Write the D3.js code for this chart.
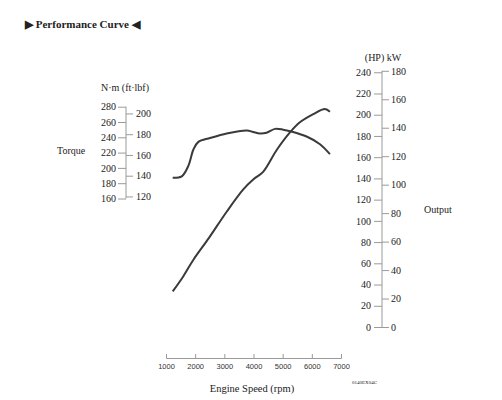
<!DOCTYPE html>
<html>
<head>
<meta charset="utf-8">
<script src="https://cdn.jsdelivr.net/npm/d3@7"></script>
<style>
  body { margin: 0; background: #fff; }
  text { font-family: "Liberation Serif", "Times New Roman", serif; fill: #222; }
  .axis path, .axis line { stroke: #9a9a9a; }
  .axis text { font-size: 10px; }
  .xaxis text { font-family: "Liberation Sans", Arial, sans-serif; font-size: 7.5px; fill: #333; }
</style>
</head>
<body>
<div id="chart"></div>
<script>
// curve data
var torqueRpm = [1230, 1540, 1770, 1940, 2110, 2510, 3080, 3770, 3990, 4220, 4450, 4740, 5020, 5360, 5820, 6280, 6620];
var torqueNm = [187, 189, 203, 224, 234, 239, 245, 249, 247, 245, 246, 251, 250, 247, 241, 231, 218];

var outputRpm = [1230, 1590, 1940, 2480, 3080, 3650, 4000, 4330, 4800, 5250, 5590, 6050, 6450, 6620];
var outputKw = [25, 35.5, 47.3, 62.8, 81, 96.7, 103.8, 109, 124.5, 136.7, 143.8, 149.6, 153.2, 151.3];

// tick labels
var rpmTicks = [1000, 2000, 3000, 4000, 5000, 6000, 7000];
var nmTicks = [160, 180, 200, 220, 240, 260, 280];
var ftTicks = [120, 140, 160, 180, 200];
var hpTicks = [0, 20, 40, 60, 80, 100, 120, 140, 160, 180, 200, 220, 240];
var kwTicks = [0, 20, 40, 60, 80, 100, 120, 140, 160, 180];

var NM_PER_FT = 1.35582;
var KW_PER_HP = 0.7457;

var svg = d3.select("#chart")
  .append("svg")
  .attr("width", 502)
  .attr("height", 400);

// scales
var xScale = d3.scaleLinear().domain([1000, 7000]).range([166, 341]);
var yNm = d3.scaleLinear().domain([160, 280]).range([198.5, 106.7]);
var yFt = d3.scaleLinear().domain([160 / NM_PER_FT, 280 / NM_PER_FT]).range([198.5, 106.7]);
var yKw = d3.scaleLinear().domain([0, 180]).range([327, 70.8]);
var yHp = d3.scaleLinear().domain([0, 180 / KW_PER_HP]).range([327, 70.8]);

var leftX = 126, rightX = 382;

// title
svg.append("text")
  .attr("x", 25)
  .attr("y", 28)
  .style("font-size", "11px")
  .style("font-weight", "bold")
  .text("\u25B6 Performance Curve \u25C0");

// torque axes
svg.append("line")
  .attr("x1", leftX).attr("x2", leftX)
  .attr("y1", yNm(280)).attr("y2", yNm(160))
  .attr("stroke", "#9a9a9a");

svg.append("g")
  .attr("class", "axis")
  .attr("transform", `translate(${leftX},0)`)
  .call(d3.axisLeft(yNm).tickValues(nmTicks).tickSize(8).tickPadding(2))
  .call(g => g.select(".domain").remove());

svg.append("g")
  .attr("class", "axis")
  .attr("transform", `translate(${leftX},0)`)
  .call(d3.axisRight(yFt).tickValues(ftTicks).tickSize(7).tickPadding(3))
  .call(g => g.select(".domain").remove());

// output axes
svg.append("line")
  .attr("x1", rightX).attr("x2", rightX)
  .attr("y1", yKw(180)).attr("y2", yKw(0))
  .attr("stroke", "#9a9a9a");

svg.append("g")
  .attr("class", "axis")
  .attr("transform", `translate(${rightX},0)`)
  .call(d3.axisLeft(yHp).tickValues(hpTicks).tickSize(8).tickPadding(3))
  .call(g => g.select(".domain").remove());

svg.append("g")
  .attr("class", "axis")
  .attr("transform", `translate(${rightX},0)`)
  .call(d3.axisRight(yKw).tickValues(kwTicks).tickSize(7).tickPadding(2))
  .call(g => g.select(".domain").remove());

// rpm axis, ticks point up
svg.append("g")
  .attr("class", "axis xaxis")
  .attr("transform", "translate(0,358)")
  .call(d3.axisBottom(xScale).tickValues(rpmTicks).tickFormat(d3.format("d"))
    .tickSizeInner(-4).tickSizeOuter(-4).tickPadding(6));

// axis titles
svg.append("text")
  .attr("x", 125).attr("y", 91)
  .attr("text-anchor", "middle")
  .style("font-size", "10px")
  .text("N\u00B7m (ft\u00B7lbf)");

svg.append("text")
  .attr("x", 57).attr("y", 154)
  .style("font-size", "10px")
  .text("Torque");

svg.append("text")
  .attr("x", 383).attr("y", 61)
  .attr("text-anchor", "middle")
  .style("font-size", "10px")
  .text("(HP) kW");

svg.append("text")
  .attr("x", 424).attr("y", 213)
  .style("font-size", "10px")
  .text("Output");

svg.append("text")
  .attr("x", 252).attr("y", 392)
  .attr("text-anchor", "middle")
  .style("font-size", "10.5px")
  .text("Engine Speed (rpm)");

svg.append("text")
  .attr("x", 352).attr("y", 384)
  .style("font-size", "5px")
  .text("0140EX04C");

// curves
var torqueLine = d3.line()
  .x(i => xScale(torqueRpm[i]))
  .y(i => yNm(torqueNm[i]))
  .curve(d3.curveCatmullRom);

var outputLine = d3.line()
  .x(i => xScale(outputRpm[i]))
  .y(i => yKw(outputKw[i]))
  .curve(d3.curveCatmullRom);

svg.append("path")
  .attr("d", torqueLine(d3.range(torqueRpm.length)))
  .attr("fill", "none")
  .attr("stroke", "#3a3a3a")
  .attr("stroke-width", 2);

svg.append("path")
  .attr("d", outputLine(d3.range(outputRpm.length)))
  .attr("fill", "none")
  .attr("stroke", "#3a3a3a")
  .attr("stroke-width", 2);
</script>
</body>
</html>
